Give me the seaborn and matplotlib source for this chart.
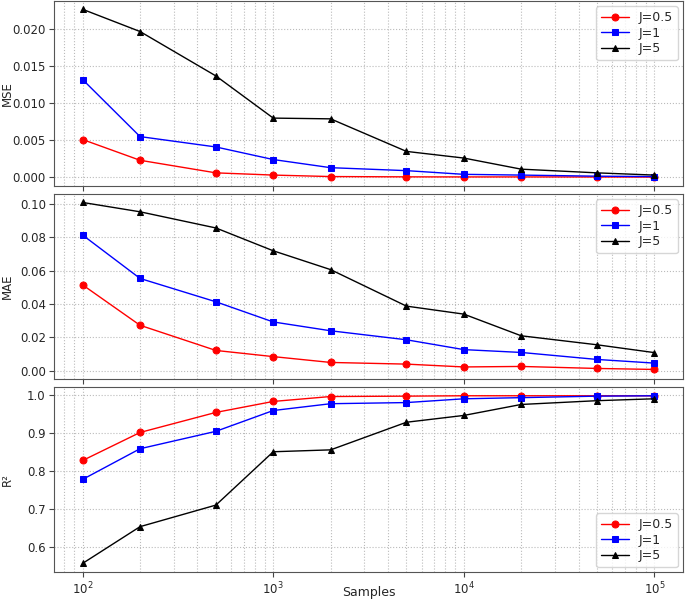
import numpy as np
import pandas as pd
import matplotlib
matplotlib.use("Agg")
import matplotlib.pyplot as plt
import seaborn as sns

samples = [100, 200, 500, 1000, 2000, 5000, 10000, 20000, 50000, 100000]
labels = ["J=0.5", "J=1", "J=5"]

mse_j05 = [0.0051, 0.0023, 0.0006, 0.0003, 0.0001, 0.00006, 0.00005, 0.00005, 0.00004, 0.00003]
mse_j1 = [0.0132, 0.0055, 0.0041, 0.0024, 0.0013, 0.0009, 0.0004, 0.0003, 0.00015, 0.0001]
mse_j5 = [0.0227, 0.0197, 0.0137, 0.0080, 0.0079, 0.0035, 0.0026, 0.0011, 0.0006, 0.0003]

mae_j05 = [0.0515, 0.0273, 0.0122, 0.0085, 0.0050, 0.0040, 0.0023, 0.0026, 0.0014, 0.0008]
mae_j1 = [0.0814, 0.0554, 0.0414, 0.0293, 0.0240, 0.0186, 0.0127, 0.0110, 0.0068, 0.0046]
mae_j5 = [0.1010, 0.0954, 0.0857, 0.0720, 0.0607, 0.0388, 0.0340, 0.0210, 0.0156, 0.0109]

r2_j05 = [0.828, 0.902, 0.955, 0.984, 0.997, 0.998, 0.999, 0.999, 0.999, 0.999]
r2_j1 = [0.778, 0.859, 0.905, 0.960, 0.978, 0.981, 0.991, 0.994, 0.998, 0.999]
r2_j5 = [0.556, 0.653, 0.710, 0.851, 0.856, 0.929, 0.947, 0.976, 0.986, 0.991]

sns.set_style("white")
plt.rcParams['font.family'] = ['DejaVu Sans']

colors = ["red", "blue", "black"]
markers = ["o", "s", "^"]

fig, axes = plt.subplots(3, 1, figsize=(6.85, 5.99), dpi=100, sharex=True)
fig.subplots_adjust(left=0.079, right=0.997, top=0.998, bottom=0.045, hspace=0.043)

panels = [
    ("MSE", [mse_j05, mse_j1, mse_j5], "upper right"),
    ("MAE", [mae_j05, mae_j1, mae_j5], "upper right"),
    ("R²", [r2_j05, r2_j1, r2_j5], "lower right"),
]

for ax, (ylabel, series, loc) in zip(axes, panels):
    for vals, lab, c, m in zip(series, labels, colors, markers):
        df = pd.DataFrame({"Samples": samples, "v": vals})
        sns.lineplot(data=df, x="Samples", y="v", ax=ax, color=c, marker=m,
                     markersize=5, linewidth=1, label=lab, markeredgecolor=c)
    ax.set_xscale("log")
    ax.set_ylabel(ylabel, fontsize=8.5)
    ax.yaxis.set_label_coords(-0.064, 0.5)
    ax.set_xlabel("")
    ax.grid(True, which="both", linestyle=":", color="#bbbbbb", linewidth=0.8)
    ax.tick_params(labelsize=8.5, which="major", length=3.5, pad=2.5,
                   bottom=True, left=True, color="#444444")
    ax.tick_params(which="minor", bottom=False)
    for s in ax.spines.values():
        s.set_color("#555555")
    leg = ax.legend(loc=loc, fontsize=9, frameon=True, labelspacing=0.2,
                    borderaxespad=0.4, handlelength=2.2)
    leg.get_frame().set_edgecolor("#cccccc")

axes[0].set_ylim(-0.0012, 0.0238)
axes[0].set_yticks([0.0, 0.005, 0.01, 0.015, 0.02])
axes[0].yaxis.set_major_formatter(matplotlib.ticker.FormatStrFormatter("%.3f"))
axes[1].set_ylim(-0.005, 0.106)
axes[1].set_yticks([0.0, 0.02, 0.04, 0.06, 0.08, 0.10])
axes[1].yaxis.set_major_formatter(matplotlib.ticker.FormatStrFormatter("%.2f"))
axes[2].set_ylim(0.533, 1.022)
axes[2].set_yticks([0.6, 0.7, 0.8, 0.9, 1.0])
axes[2].yaxis.set_major_formatter(matplotlib.ticker.FormatStrFormatter("%.1f"))
axes[2].set_xlabel("Samples", fontsize=9)
axes[2].xaxis.set_label_coords(0.5, -0.078)

fig.savefig("out.png", dpi=100)
